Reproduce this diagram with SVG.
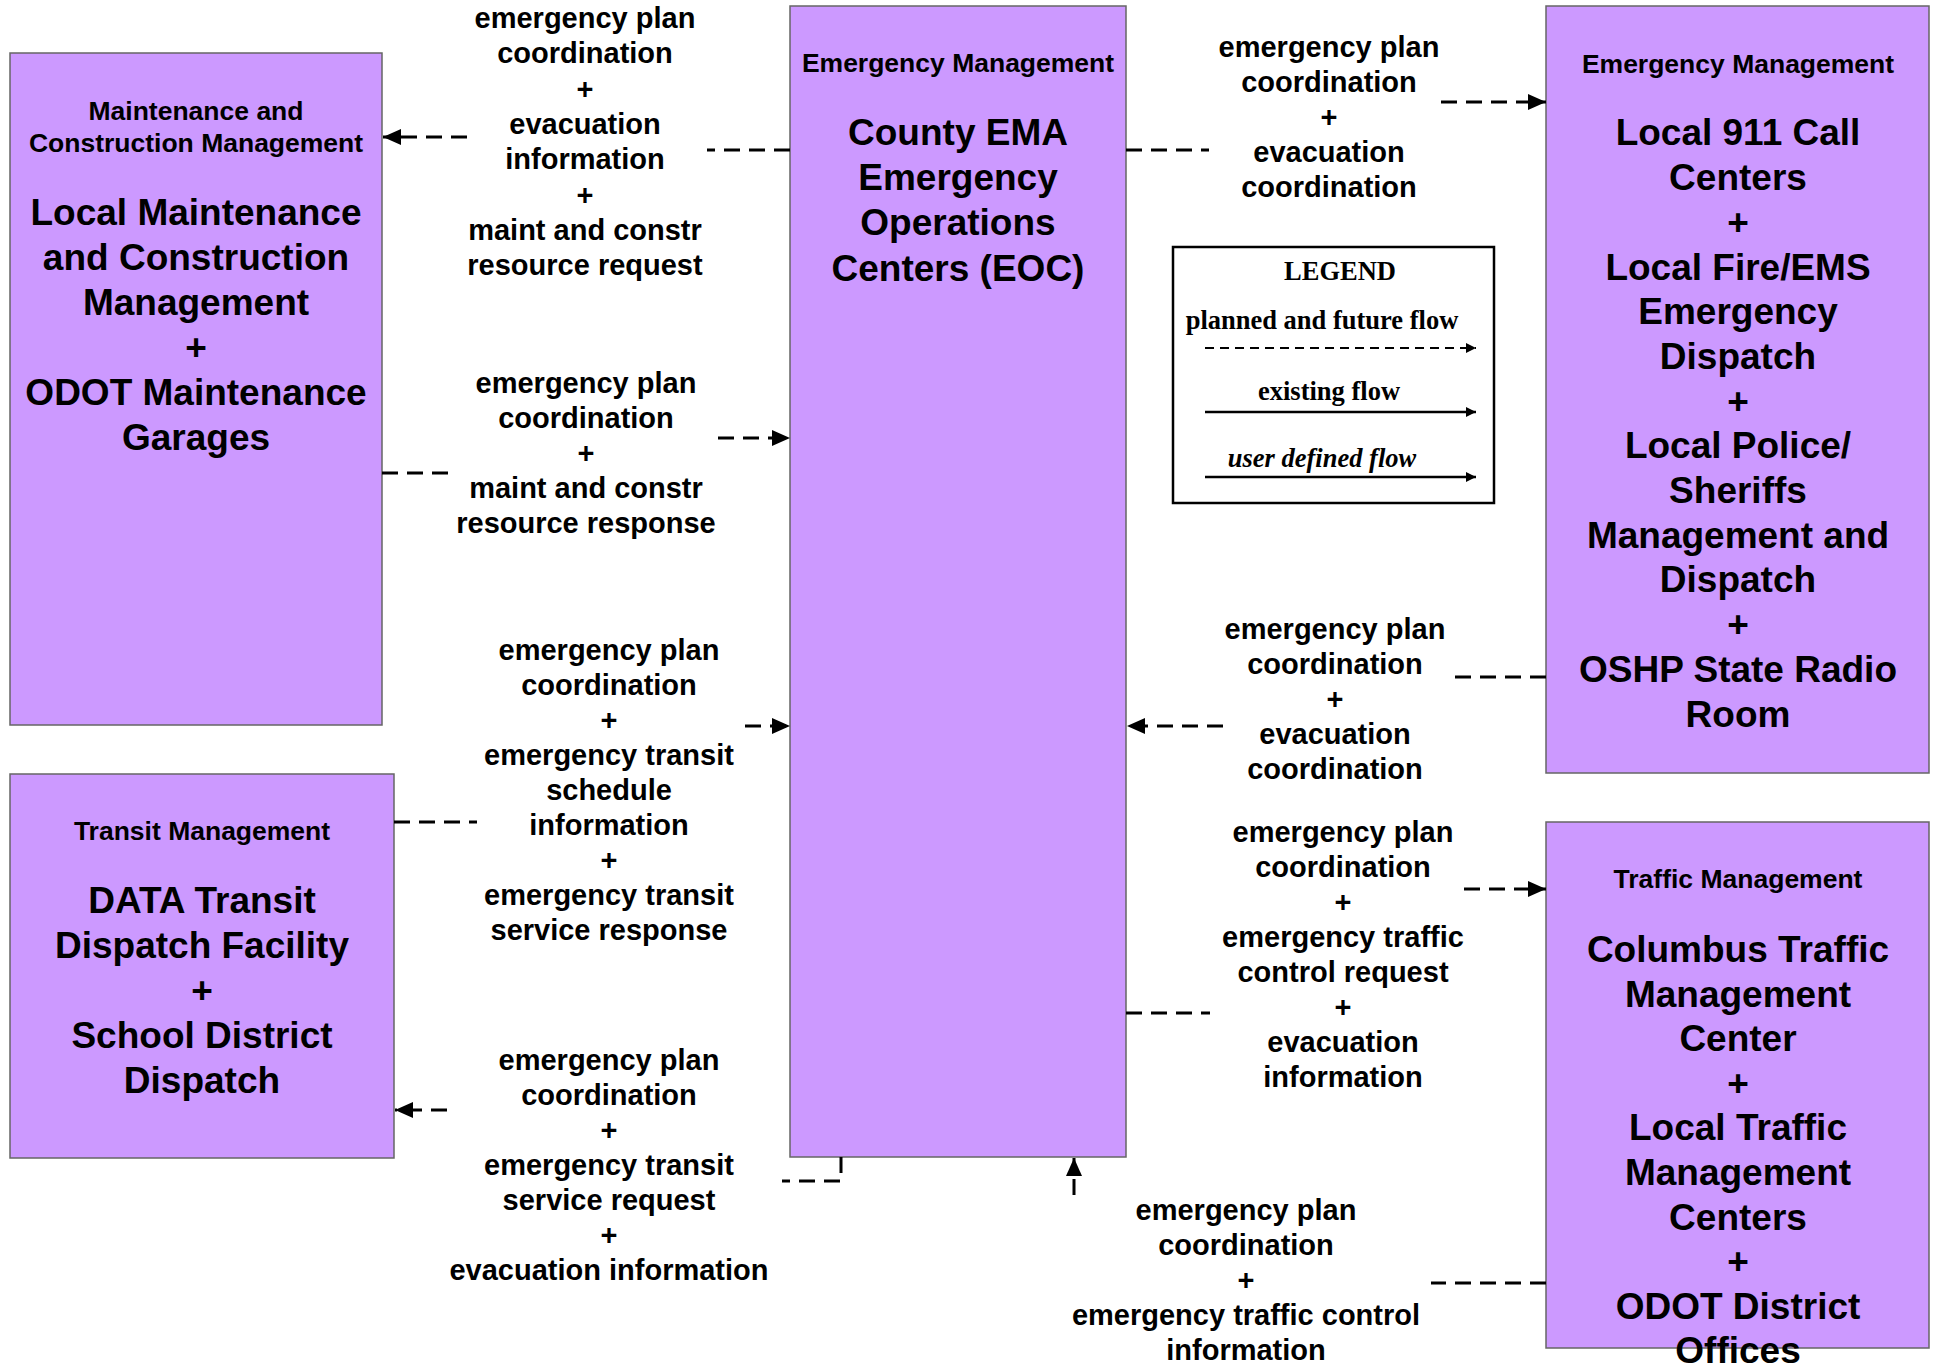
<svg xmlns="http://www.w3.org/2000/svg" width="1939" height="1367" viewBox="0 0 1939 1367">
<style>
.box{fill:#CC99FF;stroke:#666666;stroke-width:1.5}
.hdr{font-family:"Liberation Sans",Arial,sans-serif;font-weight:bold;font-size:26.5px;fill:#000;text-anchor:middle}
.big{font-family:"Liberation Sans",Arial,sans-serif;font-weight:bold;font-size:37px;fill:#000;text-anchor:middle}
.lbl{font-family:"Liberation Sans",Arial,sans-serif;font-weight:bold;font-size:29px;fill:#000;text-anchor:middle}
.flow{fill:none;stroke:#000;stroke-width:3;stroke-dasharray:16 9}
.leg{font-family:"Liberation Serif","Times New Roman",serif;font-weight:bold;font-size:26.5px;fill:#000;text-anchor:middle}
</style>
<defs>
<marker id="ah" markerUnits="userSpaceOnUse" viewBox="0 0 18 16" refX="18" refY="8" markerWidth="18" markerHeight="16" orient="auto">
<path d="M0,0 L18,8 L0,16 z" fill="#000"/>
</marker>
<marker id="ahs" markerUnits="userSpaceOnUse" viewBox="0 0 10 10" refX="10" refY="5" markerWidth="10" markerHeight="10" orient="auto">
<path d="M0,0 L10,5 L0,10 z" fill="#000"/>
</marker>
</defs>
<rect width="1939" height="1367" fill="#fff"/>

<g id="maint">
<rect class="box" x="10" y="53" width="372" height="672"/>
<text class="hdr" x="196" y="120">Maintenance and</text>
<text class="hdr" x="196" y="152">Construction Management</text>
<text class="big" x="196" y="225">Local Maintenance</text>
<text class="big" x="196" y="270">and Construction</text>
<text class="big" x="196" y="315">Management</text>
<text class="big" x="196" y="360">+</text>
<text class="big" x="196" y="405">ODOT Maintenance</text>
<text class="big" x="196" y="450">Garages</text>
</g>

<g id="transit">
<rect class="box" x="10" y="774" width="384" height="384"/>
<text class="hdr" x="202" y="840">Transit Management</text>
<text class="big" x="202" y="913">DATA Transit</text>
<text class="big" x="202" y="958">Dispatch Facility</text>
<text class="big" x="202" y="1003">+</text>
<text class="big" x="202" y="1048">School District</text>
<text class="big" x="202" y="1093">Dispatch</text>
</g>

<g id="eoc">
<rect class="box" x="790" y="6" width="336" height="1151"/>
<text class="hdr" x="958" y="72">Emergency Management</text>
<text class="big" x="958" y="145">County EMA</text>
<text class="big" x="958" y="190">Emergency</text>
<text class="big" x="958" y="235">Operations</text>
<text class="big" x="958" y="281">Centers (EOC)</text>
</g>

<g id="em911">
<rect class="box" x="1546" y="6" width="383" height="767"/>
<text class="hdr" x="1738" y="73">Emergency Management</text>
<text class="big" x="1738" y="145">Local 911 Call</text>
<text class="big" x="1738" y="190">Centers</text>
<text class="big" x="1738" y="235">+</text>
<text class="big" x="1738" y="280">Local Fire/EMS</text>
<text class="big" x="1738" y="324">Emergency</text>
<text class="big" x="1738" y="369">Dispatch</text>
<text class="big" x="1738" y="414">+</text>
<text class="big" x="1738" y="458">Local Police/</text>
<text class="big" x="1738" y="503">Sheriffs</text>
<text class="big" x="1738" y="548">Management and</text>
<text class="big" x="1738" y="592">Dispatch</text>
<text class="big" x="1738" y="637">+</text>
<text class="big" x="1738" y="682">OSHP State Radio</text>
<text class="big" x="1738" y="727">Room</text>
</g>

<g id="traffic">
<rect class="box" x="1546" y="822" width="383" height="526"/>
<text class="hdr" x="1738" y="888">Traffic Management</text>
<text class="big" x="1738" y="962">Columbus Traffic</text>
<text class="big" x="1738" y="1007">Management</text>
<text class="big" x="1738" y="1051">Center</text>
<text class="big" x="1738" y="1096">+</text>
<text class="big" x="1738" y="1140">Local Traffic</text>
<text class="big" x="1738" y="1185">Management</text>
<text class="big" x="1738" y="1230">Centers</text>
<text class="big" x="1738" y="1274">+</text>
<text class="big" x="1738" y="1319">ODOT District</text>
<text class="big" x="1738" y="1363">Offices</text>
</g>

<g id="legend">
<rect x="1173" y="247" width="321" height="256" fill="#fff" stroke="#000" stroke-width="2.5"/>
<text class="leg" x="1340" y="280">LEGEND</text>
<text class="leg" x="1322" y="329">planned and future flow</text>
<line x1="1205" y1="348" x2="1476" y2="348" stroke="#000" stroke-width="2" stroke-dasharray="9 6" marker-end="url(#ahs)"/>
<text class="leg" x="1329" y="400">existing flow</text>
<line x1="1205" y1="412" x2="1476" y2="412" stroke="#000" stroke-width="2.5" marker-end="url(#ahs)"/>
<text class="leg" x="1322" y="467" font-style="italic">user defined flow</text>
<line x1="1205" y1="477" x2="1476" y2="477" stroke="#000" stroke-width="2.5" marker-end="url(#ahs)"/>
</g>

<g id="connectors">
<path class="flow" d="M790,150 H707 M467,137 H383" marker-end="url(#ah)"/>
<path class="flow" d="M382,473 H453 M718,438 H790" marker-end="url(#ah)"/>
<path class="flow" d="M394,822 H477 M745,726 H790" marker-end="url(#ah)"/>
<path class="flow" d="M841,1157 V1181 H782 M447,1110 H395" marker-end="url(#ah)"/>
<path class="flow" d="M1546,1283 H1431 M1074,1195 V1158" marker-end="url(#ah)"/>
<path class="flow" d="M1546,677 H1446 M1223,726 H1127" marker-end="url(#ah)"/>
<path class="flow" d="M1126,1013 H1210 M1464,889 H1546" marker-end="url(#ah)"/>
<path class="flow" d="M1126,150 H1209 M1441,102 H1546" marker-end="url(#ah)"/>
</g>

<g id="labels">
<text class="lbl" x="585" y="28"><tspan x="585">emergency plan</tspan><tspan x="585" dy="35.3">coordination</tspan><tspan x="585" dy="35.3">+</tspan><tspan x="585" dy="35.3">evacuation</tspan><tspan x="585" dy="35.3">information</tspan><tspan x="585" dy="35.3">+</tspan><tspan x="585" dy="35.3">maint and constr</tspan><tspan x="585" dy="35.3">resource request</tspan></text>
<text class="lbl" x="586" y="393"><tspan x="586">emergency plan</tspan><tspan x="586" dy="35">coordination</tspan><tspan x="586" dy="35">+</tspan><tspan x="586" dy="35">maint and constr</tspan><tspan x="586" dy="35">resource response</tspan></text>
<text class="lbl" x="609" y="660"><tspan x="609">emergency plan</tspan><tspan x="609" dy="35">coordination</tspan><tspan x="609" dy="35">+</tspan><tspan x="609" dy="35">emergency transit</tspan><tspan x="609" dy="35">schedule</tspan><tspan x="609" dy="35">information</tspan><tspan x="609" dy="35">+</tspan><tspan x="609" dy="35">emergency transit</tspan><tspan x="609" dy="35">service response</tspan></text>
<text class="lbl" x="609" y="1070"><tspan x="609">emergency plan</tspan><tspan x="609" dy="35">coordination</tspan><tspan x="609" dy="35">+</tspan><tspan x="609" dy="35">emergency transit</tspan><tspan x="609" dy="35">service request</tspan><tspan x="609" dy="35">+</tspan><tspan x="609" dy="35">evacuation information</tspan></text>
<text class="lbl" x="1329" y="57"><tspan x="1329">emergency plan</tspan><tspan x="1329" dy="35">coordination</tspan><tspan x="1329" dy="35">+</tspan><tspan x="1329" dy="35">evacuation</tspan><tspan x="1329" dy="35">coordination</tspan></text>
<text class="lbl" x="1335" y="639"><tspan x="1335">emergency plan</tspan><tspan x="1335" dy="35">coordination</tspan><tspan x="1335" dy="35">+</tspan><tspan x="1335" dy="35">evacuation</tspan><tspan x="1335" dy="35">coordination</tspan></text>
<text class="lbl" x="1343" y="842"><tspan x="1343">emergency plan</tspan><tspan x="1343" dy="35">coordination</tspan><tspan x="1343" dy="35">+</tspan><tspan x="1343" dy="35">emergency traffic</tspan><tspan x="1343" dy="35">control request</tspan><tspan x="1343" dy="35">+</tspan><tspan x="1343" dy="35">evacuation</tspan><tspan x="1343" dy="35">information</tspan></text>
<text class="lbl" x="1246" y="1220"><tspan x="1246">emergency plan</tspan><tspan x="1246" dy="35">coordination</tspan><tspan x="1246" dy="35">+</tspan><tspan x="1246" dy="35">emergency traffic control</tspan><tspan x="1246" dy="35">information</tspan></text>
</g>
</svg>
